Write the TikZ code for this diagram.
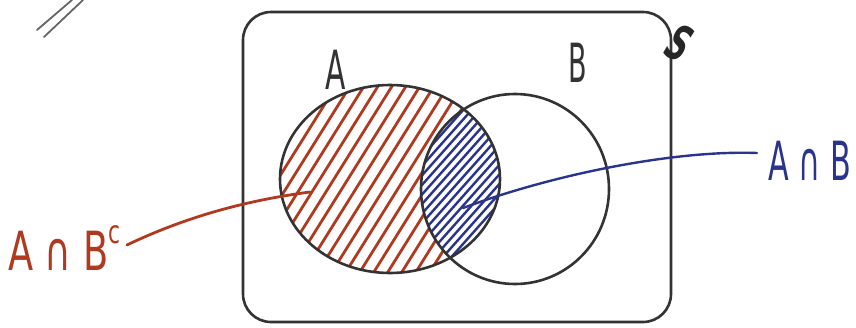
\documentclass[tikz,border=0pt]{standalone}
\usepackage{fontspec}
\setmainfont{DejaVu Sans}
\begin{document}
\begin{tikzpicture}[x=1pt,y=-1pt,
  pen/.style={draw=black!80,line width=2.6pt,line cap=round,line join=round},
  redpen/.style={draw=redink,line width=2.8pt,line cap=round},
  bluepen/.style={draw=blueink,line width=2.4pt,line cap=round},
  lbl/.style={inner sep=0pt,font=\fontsize{54}{54}\selectfont}]
\definecolor{redink}{RGB}{176,58,32}
\definecolor{blueink}{RGB}{42,52,140}
\useasboundingbox (0,0) rectangle (856,327);
% sample space
\draw[pen,rounded corners=28pt] (243,12) rectangle (671,322);
% hatching
\begin{scope}
  \clip (390,179) ellipse [x radius=110, y radius=94];
  \foreach \k in {-16,...,16}
    \draw[redpen] ({390+\k*14-100},{179+160}) -- ({390+\k*14+100},{179-160});
  \begin{scope}
    \clip (515,189) ellipse [x radius=94, y radius=95];
    \fill[white] (380,60) rectangle (520,300);
    \foreach \k in {-22,...,22}
      \draw[bluepen] ({460+\k*8.5-80},{190+90}) -- ({460+\k*8.5+80},{190-90});
  \end{scope}
\end{scope}
% sets
\draw[pen] (390,179) ellipse [x radius=110, y radius=94];
\draw[pen] (515,189) ellipse [x radius=94, y radius=95];
% labels
\node[lbl,text=black!80] (la) at (336,70) {\scalebox{0.55}[1]{A}};
\node[lbl,text=black!80] (lb) at (578,63) {\scalebox{0.5}[1]{B}};
\node[lbl,text=black!85,rotate=-25] (ls) at (680,43) {\bfseries\scalebox{0.55}[0.9]{\itshape S}};
\node[lbl,text=redink,anchor=west] (lab) at (8,248) {\scalebox{0.68}[1]{A ∩ B\raisebox{0.5em}{\fontsize{32}{32}\selectfont c}}};
\node[lbl,text=blueink,anchor=west] (lanb) at (768,161) {\scalebox{0.56}[1]{A ∩ B}};
\coordinate (pr) at (310,192);
\coordinate (pb) at (463,208);
% connectors
\draw[redpen] (lab.east) ++(6,-3) .. controls (190,215) and (250,200) .. (pr);
\draw[bluepen] (lanb.west) ++(-11,-8) .. controls (680,150) and (560,172) .. (pb);
% decorative strokes
\draw[pen,draw=black!60,line width=1.8pt] (37,30) -- (72,0);
\draw[pen,draw=black!60,line width=1.8pt] (44,37) -- (83,0);
\end{tikzpicture}
\end{document}
